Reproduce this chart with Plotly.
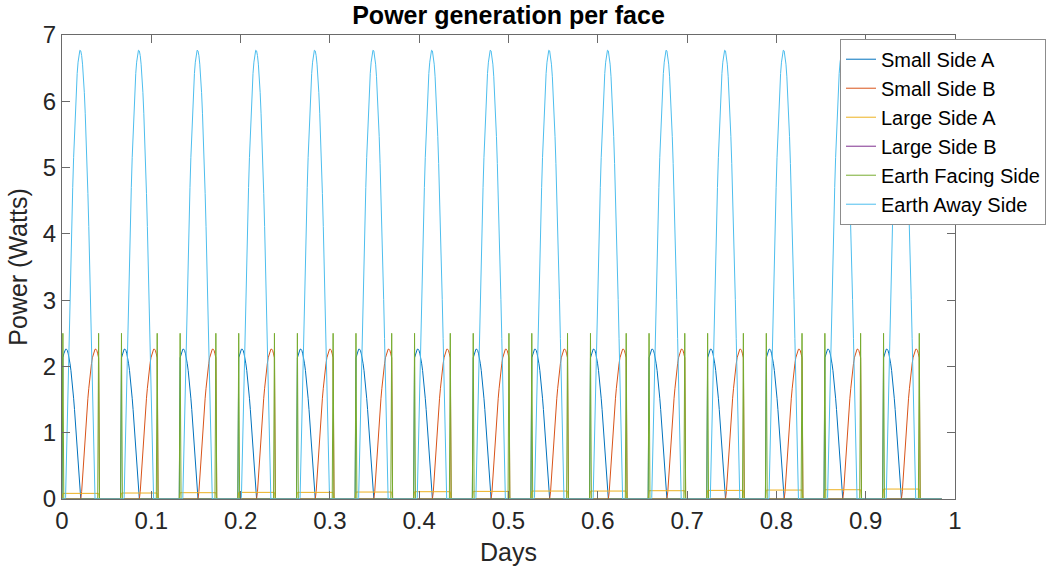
import plotly.graph_objects as go

# ---- data ----
# sunrise time (days) of each sunlit pass
ORBIT_STARTS = [0.001, 0.0666, 0.1323, 0.1979, 0.2636, 0.3292, 0.3948, 0.4605,
                0.5261, 0.5918, 0.6574, 0.7230, 0.7887, 0.8543, 0.9200]
END_TIME = 0.985

# sample offsets (days) inside one sunlit pass
OFFSETS = [0.000, 0.001, 0.002, 0.003, 0.004, 0.005, 0.006, 0.007, 0.008, 0.009,
           0.010, 0.011, 0.012, 0.013, 0.014, 0.015, 0.016, 0.017, 0.018, 0.019,
           0.020, 0.021, 0.022, 0.023, 0.024, 0.025, 0.026, 0.027, 0.028, 0.029,
           0.030, 0.031, 0.032, 0.033, 0.034, 0.035, 0.036, 0.037, 0.038, 0.039,
           0.040]

SMALL_A = [2.13, 2.19, 2.24, 2.26, 2.26, 2.24, 2.19, 2.13, 2.04, 1.94,
           1.82, 1.67, 1.52, 1.35, 1.16, 0.97, 0.76, 0.55, 0.33, 0.11,
           0, 0, 0, 0, 0, 0, 0, 0, 0, 0,
           0, 0, 0, 0, 0, 0, 0, 0, 0, 0, 0]
SMALL_B = [0, 0, 0, 0, 0, 0, 0, 0, 0, 0,
           0, 0, 0, 0, 0, 0, 0, 0, 0, 0,
           0, 0.11, 0.33, 0.55, 0.76, 0.97, 1.16, 1.35, 1.52, 1.67,
           1.82, 1.94, 2.04, 2.13, 2.19, 2.24, 2.26, 2.26, 2.24, 2.19, 2.13]
EARTH_FACING = [2.5, 0, 0, 0, 0, 0, 0, 0, 0, 0,
                0, 0, 0, 0, 0, 0, 0, 0, 0, 0,
                0, 0, 0, 0, 0, 0, 0, 0, 0, 0,
                0, 0, 0, 0, 0, 0, 0, 0, 0, 0, 2.5]
EARTH_AWAY = [0, 0, 0, 0.02, 0.66, 1.30, 1.93, 2.54, 3.13, 3.69,
              4.21, 4.70, 5.15, 5.54, 5.89, 6.18, 6.42, 6.59, 6.71, 6.77,
              6.76, 6.69, 6.56, 6.37, 6.13, 5.82, 5.47, 5.06, 4.61, 4.11,
              3.58, 3.01, 2.42, 1.81, 1.18, 0.53, 0, 0, 0, 0, 0]
# Large Side A level per pass (slowly rising), Large Side B stays at zero
LARGE_A_LEVEL = [0.085, 0.09, 0.095, 0.10, 0.10, 0.105, 0.11, 0.115,
                 0.12, 0.12, 0.125, 0.13, 0.135, 0.14, 0.15]
LARGE_B_LEVEL = [0.0] * 15

NAMES = ["Small Side A", "Small Side B", "Large Side A", "Large Side B",
         "Earth Facing Side", "Earth Away Side"]
COLORS = ["#0072BD", "#D95319", "#EDB120", "#7E2F8E", "#77AC30", "#4DBEEE"]
PRE, POST = -0.001, 0.041  # eclipse samples around each pass


def build(profile_for):
    xs, ys = [0.0], [0.0]
    for k, s in enumerate(ORBIT_STARTS):
        prof = profile_for(k)
        xs.append(s + PRE); ys.append(0.0)
        xs += [s + o for o in OFFSETS]; ys += list(prof)
        xs.append(s + POST); ys.append(0.0)
    xs.append(END_TIME); ys.append(0.0)
    return xs, ys


series = [
    build(lambda k: SMALL_A),
    build(lambda k: SMALL_B),
    build(lambda k: [LARGE_A_LEVEL[k]] * len(OFFSETS)),
    build(lambda k: [LARGE_B_LEVEL[k]] * len(OFFSETS)),
    build(lambda k: EARTH_FACING),
    build(lambda k: EARTH_AWAY),
]

fig = go.Figure()
for (xs, ys), name, col in zip(series, NAMES, COLORS):
    fig.add_trace(go.Scatter(x=xs, y=ys, mode="lines", name=name,
                             line=dict(color=col, width=1)))

FONT = "Liberation Sans, Arial, Helvetica, sans-serif"
axcol = "#6a6a6a"
fig.update_layout(
    width=1053, height=573,
    margin=dict(l=62, r=98, t=35, b=74, autoexpand=False),
    paper_bgcolor="white", plot_bgcolor="white",
    font=dict(family=FONT, color="#262626"),
    title=dict(text="<b>Power generation per face</b>", x=(62 + 955) / 2 / 1053,
               xanchor="center", y=1 - 15 / 573, yanchor="middle",
               font=dict(size=25, color="black", family=FONT)),
    showlegend=True,
    legend=dict(x=(840 - 62) / 893, y=0.992, xanchor="left", yanchor="top",
                bgcolor="white", bordercolor="#8c8c8c", borderwidth=1,
                font=dict(size=20, color="black", family=FONT),
                tracegroupgap=0, itemwidth=30),
)
fig.update_xaxes(range=[0, 1], dtick=0.1, tick0=0, showgrid=False, zeroline=False,
                 showline=True, linecolor=axcol, linewidth=1, mirror="ticks",
                 ticks="inside", ticklen=8, tickcolor=axcol,
                 tickfont=dict(size=24, color="#262626"),
                 title=dict(text="Days", font=dict(size=25, color="#262626"), standoff=10))
fig.update_yaxes(range=[0, 7], dtick=1, tick0=0, showgrid=False, zeroline=False,
                 showline=True, linecolor=axcol, linewidth=1, mirror="ticks",
                 ticks="inside", ticklen=8, tickcolor=axcol,
                 tickfont=dict(size=24, color="#262626"),
                 title=dict(text="Power (Watts)", font=dict(size=25, color="#262626"), standoff=8))

fig.write_html("out.html")
